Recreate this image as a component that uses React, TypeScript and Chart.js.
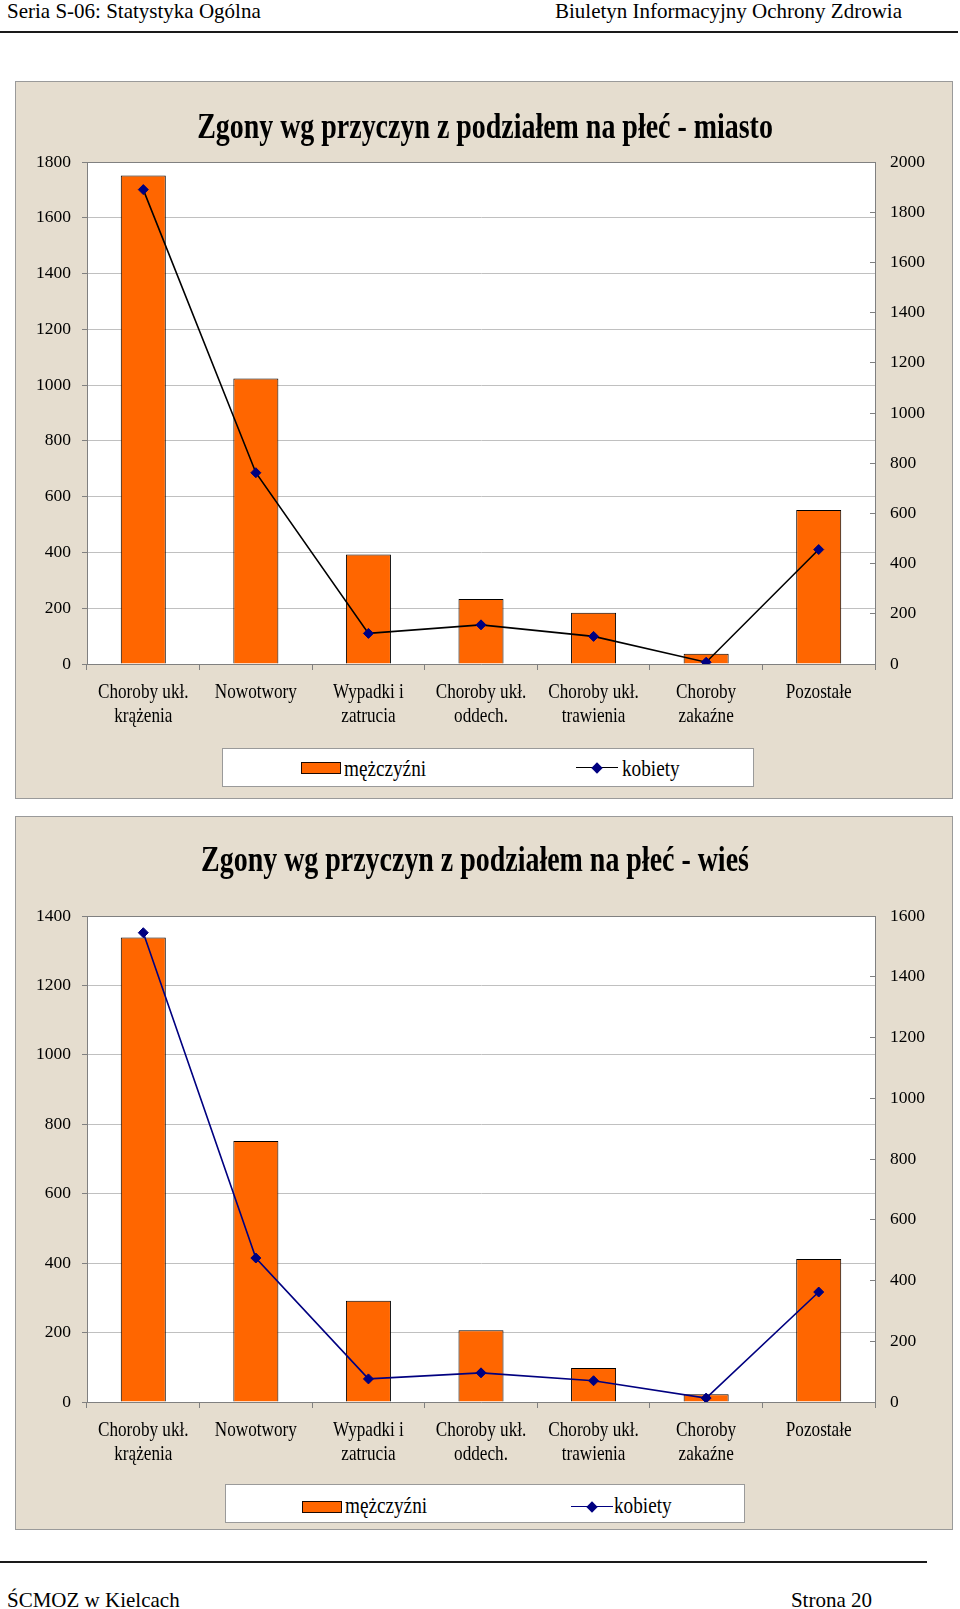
import React, { useEffect, useRef } from "react";
import { Chart, registerables } from "chart.js";

Chart.register(...registerables);

const FONT = "'Liberation Serif', 'Times New Roman', serif";
Chart.defaults.font.family = FONT;

// ---- data ----
const categories: string[][] = [
  ["Choroby ukł.", "krążenia"],
  ["Nowotwory"],
  ["Wypadki i", "zatrucia"],
  ["Choroby ukł.", "oddech."],
  ["Choroby ukł.", "trawienia"],
  ["Choroby", "zakaźne"],
  ["Pozostałe"],
];
const seriesNames = ["mężczyźni", "kobiety"];

const miastoMen = [1752, 1024, 393, 233, 184, 37, 552];
const miastoWomen = [1890, 762, 122, 156, 110, 7, 456];

const wiesMen = [1338, 752, 292, 207, 98, 22, 412];
const wiesWomen = [1545, 474, 76, 96, 70, 13, 362];

const miastoTitle = "Zgony wg przyczyn z podziałem na płeć - miasto";
const wiesTitle = "Zgony wg przyczyn z podziałem na płeć - wieś";

const miastoLeftMax = 1800;
const miastoRightMax = 2000;
const wiesLeftMax = 1400;
const wiesRightMax = 1600;
const tickStep = 200;

const headerLeft = "Seria S-06: Statystyka Ogólna";
const headerRight = "Biuletyn Informacyjny Ochrony Zdrowia";
const footerLeft = "ŚCMOZ w Kielcach";
const footerRight = "Strona 20";

type CanvasProps = {
  width: number;
  height: number;
  areaTop: number;
  areaBottom: number;
  men: number[];
  women: number[];
  leftMax: number;
  rightMax: number;
  lineColor: string;
};

function ChartCanvas(p: CanvasProps) {
  const ref = useRef<HTMLCanvasElement>(null);
  useEffect(() => {
    const canvas = ref.current!;
    const areaPlugin = {
      id: "areaPlugin",
      beforeDraw(chart: any) {
        const { ctx, chartArea: a } = chart;
        ctx.save();
        ctx.fillStyle = "#ffffff";
        ctx.fillRect(a.left, a.top, a.right - a.left, a.bottom - a.top);
        ctx.restore();
      },
      beforeDatasetsDraw(chart: any) {
        const { ctx, chartArea: a } = chart;
        ctx.save();
        ctx.strokeStyle = "#808080";
        ctx.lineWidth = 1;
        ctx.beginPath();
        const y = Math.round(a.top) + 0.5;
        ctx.moveTo(a.left, y);
        ctx.lineTo(a.right, y);
        ctx.stroke();
        ctx.restore();
      },
      afterDraw(chart: any) {
        const { ctx, chartArea: a } = chart;
        const xs = chart.scales.x;
        ctx.save();
        ctx.fillStyle = "#000";
        ctx.font = `22px ${FONT}`;
        ctx.textAlign = "center";
        ctx.textBaseline = "alphabetic";
        categories.forEach((lines, i) => {
          const x = xs.getPixelForValue(i);
          lines.forEach((line, j) => {
            ctx.save();
            ctx.translate(x, a.bottom + 33.5 + j * 24.6);
            ctx.scale(0.78, 1);
            ctx.fillText(line, 0, 0);
            ctx.restore();
          });
        });
        ctx.restore();
      },
    };

    const tickFmt = (v: any) => String(v);

    const chart = new Chart(canvas, {
      type: "bar",
      data: {
        labels: categories,
        datasets: [
          {
            type: "line",
            label: seriesNames[1],
            data: p.women,
            yAxisID: "y1",
            borderColor: p.lineColor,
            borderWidth: 1.6,
            tension: 0,
            fill: false,
            pointStyle: "rectRot",
            pointRadius: 5,
            pointBackgroundColor: "#000080",
            pointBorderColor: "#000080",
            pointBorderWidth: 1,
            order: 0,
          } as any,
          {
            type: "bar",
            label: seriesNames[0],
            data: p.men,
            yAxisID: "y",
            backgroundColor: "#FF6600",
            borderColor: "#000000",
            borderWidth: 1,
            barPercentage: 0.4,
            categoryPercentage: 1,
            order: 1,
          } as any,
        ],
      },
      options: {
        responsive: false,
        animation: false,
        events: [],
        layout: { padding: { top: p.areaTop, left: 0, right: 0, bottom: 0 } },
        plugins: {
          legend: { display: false },
          title: { display: false },
          tooltip: { enabled: false },
        },
        scales: {
          x: {
            type: "category",
            offset: true,
            grid: {
              display: true,
              drawOnChartArea: false,
              drawTicks: true,
              tickLength: 6,
              offset: true,
              color: "#808080",
              tickColor: "#808080",
            },
            border: { display: true, color: "#808080", width: 1 },
            ticks: { display: false },
            afterFit: (s: any) => {
              s.height = p.height - p.areaBottom;
            },
          },
          y: {
            position: "left",
            min: 0,
            max: p.leftMax,
            ticks: {
              stepSize: tickStep,
              padding: 11,
              color: "#000",
              font: { family: FONT, size: 17.5 },
              callback: tickFmt,
            },
            grid: {
              color: "#c0c0c0",
              tickColor: "#808080",
              tickLength: 5,
              drawTicks: true,
            },
            border: { display: true, color: "#808080", width: 1 },
            afterFit: (s: any) => {
              s.width = 72;
            },
          },
          y1: {
            position: "right",
            min: 0,
            max: p.rightMax,
            ticks: {
              stepSize: tickStep,
              padding: 20,
              color: "#000",
              font: { family: FONT, size: 17.5 },
              callback: tickFmt,
            },
            grid: {
              drawOnChartArea: false,
              drawTicks: true,
              tickLength: -5,
              color: "#808080",
              tickColor: "#808080",
            },
            border: { display: true, color: "#808080", width: 1 },
            afterFit: (s: any) => {
              s.width = p.width - 860;
            },
          },
        },
      } as any,
      plugins: [areaPlugin],
    });
    return () => chart.destroy();
  }, []);
  return (
    <canvas
      ref={ref}
      width={p.width}
      height={p.height}
      style={{ position: "absolute", left: 0, top: 0, width: p.width, height: p.height }}
    />
  );
}

type LegendProps = {
  box: [number, number, number, number]; // left, top, width, height (page coords)
  swatchX: number;
  swatchY: number;
  menTextX: number;
  lineX1: number;
  lineX2: number;
  lineY: number;
  womenTextX: number;
  baseline: number;
  lineColor: string;
};

function Legend(l: LegendProps) {
  const textStyle = (left: number): React.CSSProperties => ({
    position: "absolute",
    left,
    top: l.baseline - 20.1,
    height: 24,
    lineHeight: "24px",
    font: `24px ${FONT}`,
    whiteSpace: "nowrap",
    transform: "scaleX(0.8)",
    transformOrigin: "left center",
    color: "#000",
  });
  const mid = (l.lineX1 + l.lineX2) / 2;
  return (
    <>
      <div
        style={{
          position: "absolute",
          left: l.box[0],
          top: l.box[1],
          width: l.box[2],
          height: l.box[3],
          background: "#ffffff",
          boxShadow: "inset 0 0 0 1px #9a9a9a",
        }}
      />
      <div
        style={{
          position: "absolute",
          left: l.swatchX,
          top: l.swatchY,
          width: 40,
          height: 12,
          boxSizing: "border-box",
          background: "#FF6600",
          border: "1px solid #1a0800",
        }}
      />
      <div style={textStyle(l.menTextX)}>{seriesNames[0]}</div>
      <div
        style={{
          position: "absolute",
          left: l.lineX1,
          top: l.lineY - 0.8,
          width: l.lineX2 - l.lineX1,
          height: 1.6,
          background: l.lineColor,
        }}
      />
      <div
        style={{
          position: "absolute",
          left: mid - 4,
          top: l.lineY - 4,
          width: 8,
          height: 8,
          background: "#000080",
          transform: "rotate(45deg)",
        }}
      />
      <div style={textStyle(l.womenTextX)}>{seriesNames[1]}</div>
    </>
  );
}

function Title({ text, cx, baseline }: { text: string; cx: number; baseline: number }) {
  return (
    <div
      style={{
        position: "absolute",
        left: cx - 500,
        width: 1000,
        top: baseline - 30.15,
        height: 36,
        lineHeight: "36px",
        textAlign: "center",
        font: `bold 36px ${FONT}`,
        whiteSpace: "nowrap",
        transform: "scaleX(0.776)",
        transformOrigin: "center center",
        color: "#000",
      }}
    >
      {text}
    </div>
  );
}

const pageText = (style: React.CSSProperties): React.CSSProperties => ({
  position: "absolute",
  font: `21px ${FONT}`,
  lineHeight: "21px",
  height: 21,
  whiteSpace: "nowrap",
  color: "#000",
  ...style,
});

export default function App() {
  const PANEL_LEFT = 15;
  const PANEL_W = 938;
  const P1_TOP = 81;
  const P1_H = 718;
  const P2_TOP = 816;
  const P2_H = 714;
  return (
    <div
      style={{
        position: "absolute",
        left: 0,
        top: 0,
        width: 960,
        height: 1609,
        overflow: "hidden",
        background: "#ffffff",
      }}
    >
      {/* header */}
      <div style={pageText({ left: 7, top: 0.5 })}>{headerLeft}</div>
      <div style={pageText({ left: 402, width: 500, top: 0.5, textAlign: "right" })}>{headerRight}</div>
      <div style={{ position: "absolute", left: 0, top: 30.5, width: 958, height: 2, background: "#1a1a1a" }} />

      {/* panel 1 */}
      <div
        style={{
          position: "absolute",
          left: PANEL_LEFT,
          top: P1_TOP,
          width: PANEL_W,
          height: P1_H,
          background: "#e5ddcf",
          boxShadow: "inset 0 0 0 1px #9a9a9a",
        }}
      >
        <ChartCanvas
          width={PANEL_W}
          height={P1_H}
          areaTop={81}
          areaBottom={583}
          men={miastoMen}
          women={miastoWomen}
          leftMax={miastoLeftMax}
          rightMax={miastoRightMax}
          lineColor="#000000"
        />
      </div>
      <Title text={miastoTitle} cx={485} baseline={135} />
      <Legend
        box={[222, 748, 532, 39]}
        swatchX={301}
        swatchY={761.5}
        menTextX={344}
        lineX1={576}
        lineX2={618}
        lineY={767.5}
        womenTextX={621.5}
        baseline={775}
        lineColor="#000000"
      />

      {/* panel 2 */}
      <div
        style={{
          position: "absolute",
          left: PANEL_LEFT,
          top: P2_TOP,
          width: PANEL_W,
          height: P2_H,
          background: "#e5ddcf",
          boxShadow: "inset 0 0 0 1px #9a9a9a",
        }}
      >
        <ChartCanvas
          width={PANEL_W}
          height={P2_H}
          areaTop={100}
          areaBottom={586}
          men={wiesMen}
          women={wiesWomen}
          leftMax={wiesLeftMax}
          rightMax={wiesRightMax}
          lineColor="#000080"
        />
      </div>
      <Title text={wiesTitle} cx={475} baseline={868.5} />
      <Legend
        box={[225, 1484, 520, 39]}
        swatchX={301.5}
        swatchY={1500.5}
        menTextX={344.5}
        lineX1={571}
        lineX2={612.5}
        lineY={1506.5}
        womenTextX={614}
        baseline={1512.5}
        lineColor="#000080"
      />

      {/* footer */}
      <div style={{ position: "absolute", left: 0, top: 1560.5, width: 927, height: 2, background: "#1a1a1a" }} />
      <div style={pageText({ left: 7, top: 1589.5 })}>{footerLeft}</div>
      <div style={pageText({ left: 372, width: 500, top: 1589.5, textAlign: "right" })}>{footerRight}</div>
    </div>
  );
}
